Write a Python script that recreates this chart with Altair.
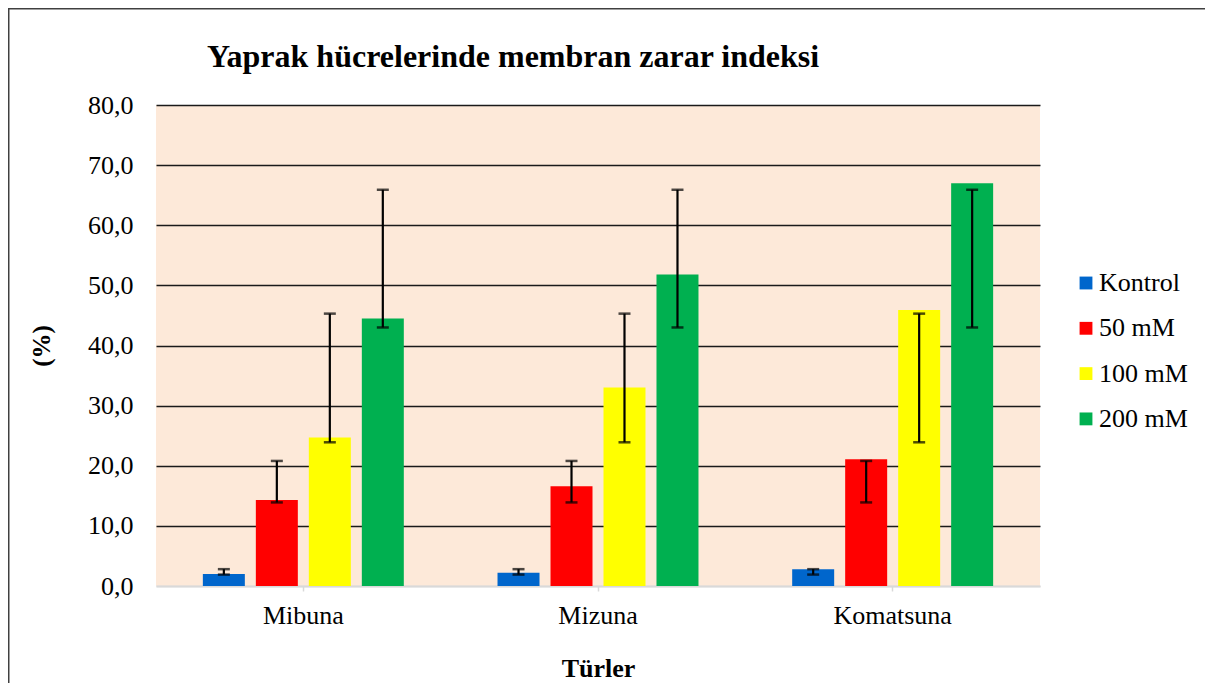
import altair as alt
import pandas as pd

species = ["Mibuna", "Mizuna", "Komatsuna"]
series = ["Kontrol", "50 mM", "100 mM", "200 mM"]
colors = ["#0066CC", "#FF0000", "#FFFF00", "#00B050"]

kontrol = [2.0, 2.2, 2.8]
mm50 = [14.3, 16.6, 21.1]
mm100 = [24.7, 33.0, 45.9]
mm200 = [44.5, 51.8, 67.0]

err_low = {"Kontrol": 1.9, "50 mM": 13.9, "100 mM": 23.9, "200 mM": 43.0}
err_high = {"Kontrol": 2.8, "50 mM": 20.8, "100 mM": 45.3, "200 mM": 65.9}

title_text = "Yaprak hücrelerinde membran zarar indeksi"

rows = []
for s, vals in zip(series, [kontrol, mm50, mm100, mm200]):
    for sp, v in zip(species, vals):
        rows.append({"Tür": sp, "Seri": s, "Değer": v,
                     "lo": err_low[s], "hi": err_high[s]})
df = pd.DataFrame(rows)

FONT = "Liberation Serif"
W, H = 884, 481

x_enc = alt.X("Tür:N", sort=species,
              scale=alt.Scale(paddingInner=0.318, paddingOuter=0.159),
              axis=alt.Axis(title="Türler", titleFont=FONT, titleFontSize=26,
                            titleFontWeight="bold", titleColor="black",
                            titlePadding=27, labelFont=FONT, labelFontSize=26,
                            labelColor="black", labelAngle=0, labelPadding=11,
                            domainColor="#D9D9D9", domainWidth=2,
                            tickColor="#D9D9D9", tickSize=5, tickWidth=1.5))
xo_enc = alt.XOffset("Seri:N", sort=series,
                     scale=alt.Scale(paddingInner=0.2075, paddingOuter=0))

y_scale = alt.Scale(domain=[0, 80], nice=False)

bars = alt.Chart(df).mark_bar().encode(
    x=x_enc,
    xOffset=xo_enc,
    y=alt.Y("Değer:Q", scale=y_scale,
            axis=alt.Axis(title="(%)", titleFont=FONT, titleFontSize=25,
                          titleFontWeight="bold", titleColor="black",
                          titlePadding=33, labelFont=FONT, labelFontSize=26,
                          labelColor="black", labelPadding=23,
                          values=list(range(0, 81, 10)),
                          labelExpr="replace(format(datum.value, '.1f'), '.', ',')",
                          domain=False, ticks=False,
                          gridColor={"condition": {"test": "datum.value === 0", "value": "#D9D9D9"},
                                     "value": "#1a1a1a"},
                          gridWidth=1.3)),
    color=alt.Color("Seri:N", sort=series,
                    scale=alt.Scale(domain=series, range=colors),
                    legend=alt.Legend(title=None, orient="none", legendX=917, legendY=165,
                                      labelFont=FONT, labelFontSize=26, labelColor="black",
                                      symbolType="square", symbolSize=165,
                                      symbolStrokeWidth=0, rowPadding=19.3,
                                      labelOffset=0)),
)

rules = alt.Chart(df).mark_rule(color="black", strokeWidth=2.2).encode(
    x=alt.X("Tür:N", sort=species), xOffset=alt.XOffset("Seri:N", sort=series),
    y=alt.Y("lo:Q", scale=y_scale), y2="hi:Q")

cap_lo = alt.Chart(df).mark_tick(color="black", thickness=2.5, size=12, orient="horizontal").encode(
    x=alt.X("Tür:N", sort=species), xOffset=alt.XOffset("Seri:N", sort=series),
    y=alt.Y("lo:Q", scale=y_scale))
cap_hi = alt.Chart(df).mark_tick(color="black", thickness=2.5, size=12, orient="horizontal").encode(
    x=alt.X("Tür:N", sort=species), xOffset=alt.XOffset("Seri:N", sort=series),
    y=alt.Y("hi:Q", scale=y_scale))

title = alt.Chart(alt.Data(values=[{"t": title_text}])).mark_text(
    font=FONT, fontSize=32, fontWeight="bold", color="black",
    align="left", baseline="alphabetic").encode(
    text="t:N", x=alt.value(51), y=alt.value(-38))

frame = alt.Chart(alt.Data(values=[{}])).mark_rect(
    fill=None, fillOpacity=0, stroke="#404040", strokeWidth=1.6).encode(
    x=alt.value(-147.3), y=alt.value(-96.3), x2=alt.value(1100), y2=alt.value(700))

chart = alt.layer(bars, rules, cap_lo, cap_hi, title, frame).properties(
    width=W, height=H,
    autosize=alt.AutoSizeParams(type="none"),
    padding={"left": 148, "top": 97, "right": 165, "bottom": 97},
).configure(background="white", font=FONT).configure_view(
    fill="#FDE9D9", strokeWidth=0).configure_legend(labelFont=FONT, labelFontSize=26)

chart.save("out.html", embed_options={"renderer": "svg", "actions": False})
